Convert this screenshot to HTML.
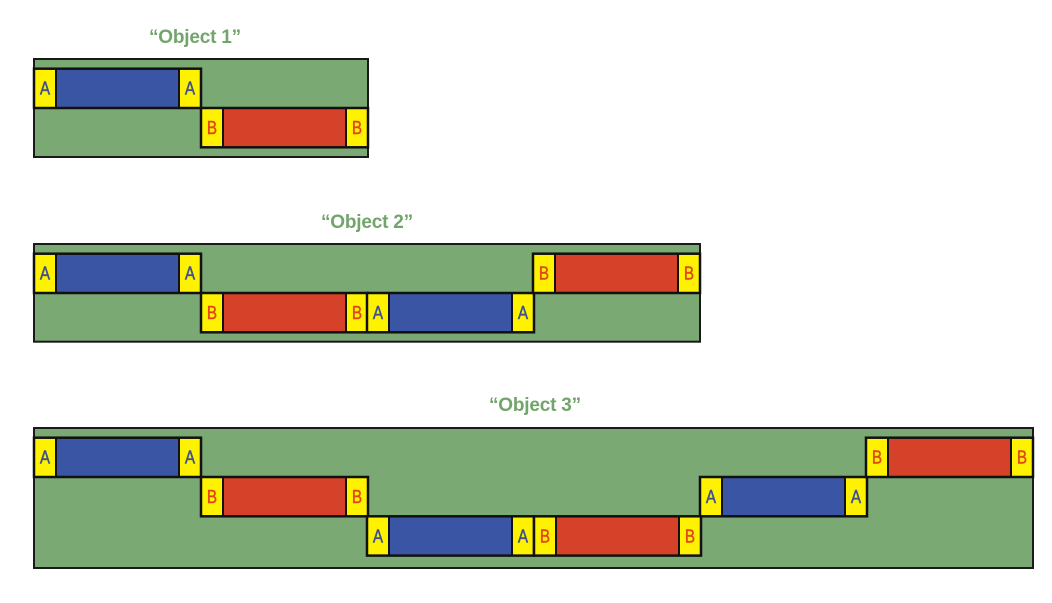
<!DOCTYPE html>
<html>
<head>
<meta charset="utf-8">
<style>
html,body{margin:0;padding:0;background:#fff;}
svg{display:block;}
.t{font-family:"Liberation Sans",sans-serif;font-weight:bold;font-size:19px;fill:#72a56c;letter-spacing:-0.2px;}
.la{font-family:"Liberation Sans",sans-serif;font-size:17px;fill:#3d4f8e;stroke:#3d4f8e;stroke-width:0.4px;}
.lb{font-family:"Liberation Sans",sans-serif;font-size:17px;fill:#e2441c;stroke:#e2441c;stroke-width:0.4px;}
</style>
</head>
<body>
<svg width="1052" height="603" viewBox="0 0 1052 603" xmlns="http://www.w3.org/2000/svg">
<defs>
  <g id="blkA">
    <rect x="0" y="0" width="22" height="39.3" fill="#fff200"/>
    <rect x="22" y="0" width="123" height="39.3" fill="#3a55a4"/>
    <rect x="145" y="0" width="22" height="39.3" fill="#fff200"/>
    <line x1="22" y1="0" x2="22" y2="39.3" stroke="#111" stroke-width="2"/>
    <line x1="145" y1="0" x2="145" y2="39.3" stroke="#111" stroke-width="2"/>
    <rect x="0" y="0" width="167" height="39.3" fill="none" stroke="#111" stroke-width="2.5"/>
    <text class="la" x="0" y="0" text-anchor="middle" transform="translate(11,26) scale(0.9,1.08)">A</text>
    <text class="la" x="0" y="0" text-anchor="middle" transform="translate(156,26) scale(0.9,1.08)">A</text>
  </g>
  <g id="blkB">
    <rect x="0" y="0" width="22" height="39.3" fill="#fff200"/>
    <rect x="22" y="0" width="123" height="39.3" fill="#d64129"/>
    <rect x="145" y="0" width="22" height="39.3" fill="#fff200"/>
    <line x1="22" y1="0" x2="22" y2="39.3" stroke="#111" stroke-width="2"/>
    <line x1="145" y1="0" x2="145" y2="39.3" stroke="#111" stroke-width="2"/>
    <rect x="0" y="0" width="167" height="39.3" fill="none" stroke="#111" stroke-width="2.5"/>
    <text class="lb" x="0" y="0" text-anchor="middle" transform="translate(11,26) scale(0.9,1.08)">B</text>
    <text class="lb" x="0" y="0" text-anchor="middle" transform="translate(156,26) scale(0.9,1.08)">B</text>
  </g>
</defs>

<!-- Object 1 -->
<text class="t" x="195" y="43" text-anchor="middle">“Object 1”</text>
<rect x="34" y="59" width="334" height="98" fill="#7aa973" stroke="#1a1a1a" stroke-width="2"/>
<use href="#blkA" x="34" y="68.7"/>
<use href="#blkB" x="201" y="108"/>

<!-- Object 2 -->
<text class="t" x="367" y="228" text-anchor="middle">“Object 2”</text>
<rect x="34" y="244" width="666" height="97.7" fill="#7aa973" stroke="#1a1a1a" stroke-width="2"/>
<use href="#blkA" x="34" y="253.7"/>
<use href="#blkB" x="201" y="293"/>
<use href="#blkA" x="367" y="293"/>
<use href="#blkB" x="533" y="253.7"/>

<!-- Object 3 -->
<text class="t" x="535" y="411" text-anchor="middle">“Object 3”</text>
<rect x="34" y="428" width="999" height="140" fill="#7aa973" stroke="#1a1a1a" stroke-width="2"/>
<use href="#blkA" x="34" y="437.7"/>
<use href="#blkB" x="201" y="477"/>
<use href="#blkA" x="367" y="516.3"/>
<use href="#blkB" x="534" y="516.3"/>
<use href="#blkA" x="700" y="477"/>
<use href="#blkB" x="866" y="437.7"/>
</svg>
</body>
</html>
